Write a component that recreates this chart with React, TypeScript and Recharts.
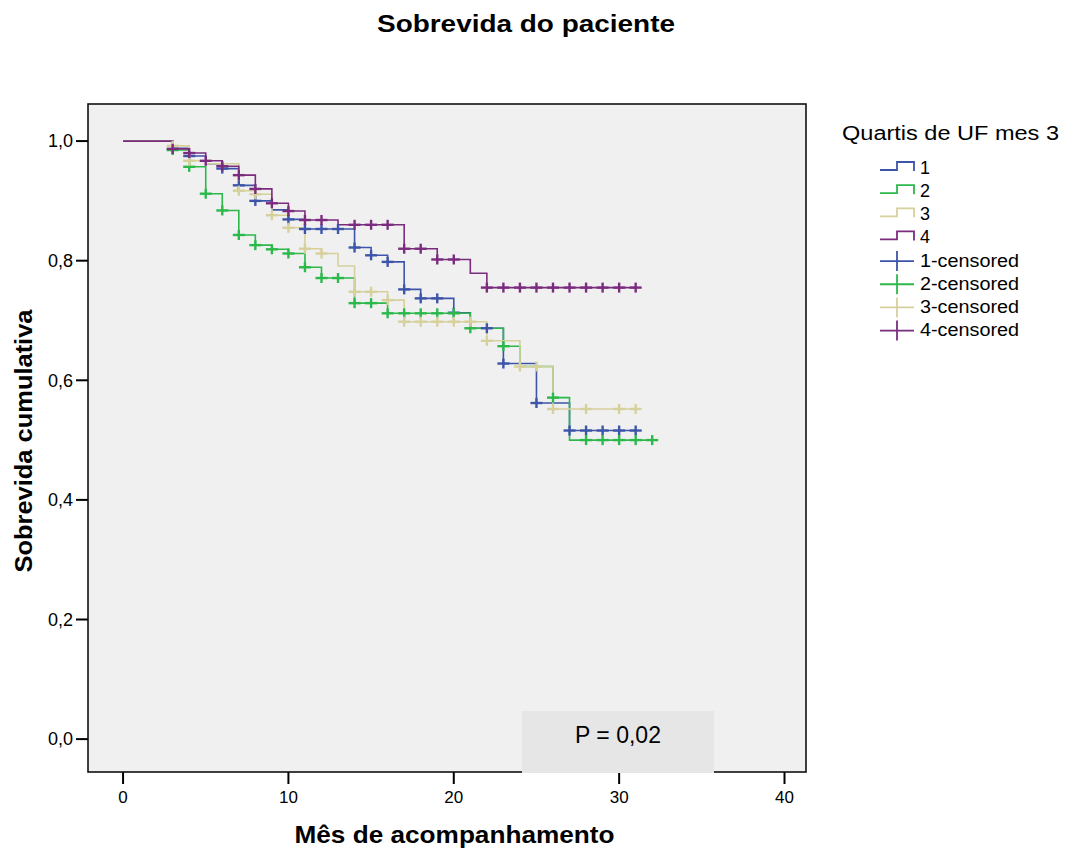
import React from "react";
import { ComposedChart, Line, Scatter, XAxis, YAxis, CartesianGrid } from "recharts";

const FONT = '"Liberation Sans", Arial, Helvetica, sans-serif';

// Step times (months) and cumulative survival after each step
const times1 = [0, 3, 4, 5, 6, 7, 8, 9, 10, 11, 14, 15, 16, 17, 18, 20, 21, 23, 25, 27, 31];
const surv1 = [1, 0.988, 0.975, 0.962, 0.954, 0.926, 0.9, 0.885, 0.869, 0.853, 0.822, 0.809, 0.798, 0.752, 0.737, 0.713, 0.687, 0.628, 0.562, 0.516, 0.516];
const cens1 = [4, 6, 7, 8, 10, 11, 12, 13, 14, 15, 16, 17, 18, 19, 20, 22, 23, 25, 27, 28, 29, 30, 31];

const times2 = [0, 3, 4, 5, 6, 7, 8, 9, 10, 11, 12, 14, 16, 21, 23, 24, 26, 27, 32];
const surv2 = [1, 0.985, 0.957, 0.912, 0.884, 0.843, 0.826, 0.819, 0.812, 0.789, 0.771, 0.729, 0.712, 0.687, 0.657, 0.623, 0.571, 0.5, 0.5];
const cens2 = [3, 4, 5, 6, 7, 8, 9, 10, 11, 12, 13, 14, 15, 16, 17, 18, 19, 20, 21, 23, 26, 28, 29, 30, 31, 32];

const times3 = [0, 3, 4, 5, 7, 8, 9, 10, 11, 12, 13, 14, 16, 17, 22, 24, 26, 31];
const surv3 = [1, 0.992, 0.967, 0.962, 0.917, 0.911, 0.876, 0.855, 0.82, 0.812, 0.791, 0.748, 0.734, 0.698, 0.666, 0.623, 0.552, 0.552];
const cens3 = [3, 4, 7, 8, 9, 10, 11, 12, 14, 15, 16, 17, 18, 19, 20, 21, 22, 24, 25, 26, 28, 30, 31];

const times4 = [0, 3, 4, 5, 6, 7, 8, 9, 10, 11, 13, 17, 19, 21, 22, 31];
const surv4 = [1, 0.987, 0.98, 0.967, 0.958, 0.943, 0.92, 0.896, 0.883, 0.868, 0.86, 0.82, 0.802, 0.779, 0.755, 0.755];
const cens4 = [3, 4, 5, 6, 7, 8, 9, 10, 11, 12, 14, 15, 16, 17, 18, 19, 20, 22, 23, 24, 25, 26, 27, 28, 29, 30, 31];

const groupNames = ["1", "2", "3", "4"];
const censoredNames = ["1-censored", "2-censored", "3-censored", "4-censored"];
const colors = ["#3d55a8", "#2cb84b", "#d6d09c", "#7b2c7f"];
const xTicks = [0, 10, 20, 30, 40];
const yTicks = [0, 0.2, 0.4, 0.6, 0.8, 1.0];

const toSteps = (times: number[], surv: number[]) => times.map((t, i) => ({ t, s: surv[i] }));
const survAt = (times: number[], surv: number[], t: number) => {
  let v = surv[0];
  for (let i = 0; i < times.length; i++) if (times[i] <= t) v = surv[i];
  return v;
};
const toCens = (times: number[], surv: number[], cens: number[]) =>
  cens.map((t) => ({ t, s: survAt(times, surv, t) }));

const series = [
  { steps: toSteps(times1, surv1), cens: toCens(times1, surv1, cens1) },
  { steps: toSteps(times2, surv2), cens: toCens(times2, surv2, cens2) },
  { steps: toSteps(times3, surv3), cens: toCens(times3, surv3, cens3) },
  { steps: toSteps(times4, surv4), cens: toCens(times4, surv4, cens4) },
];

const makeCross = (color: string) => (props: any) => {
  const { cx, cy } = props;
  if (cx == null || cy == null) return <g />;
  return (
    <g>
      <line x1={cx - 6} x2={cx + 6} y1={cy} y2={cy} stroke={color} strokeWidth={2.4} />
      <line x1={cx} x2={cx} y1={cy - 5} y2={cy + 5} stroke={color} strokeWidth={2.4} />
    </g>
  );
};

const fmt = (v: number) => v.toFixed(1).replace(".", ",");

export default function App() {
  return (
    <div style={{ position: "absolute", left: 0, top: 0, width: 1068, height: 850, background: "#fff" }}>
      <ComposedChart
        width={1068}
        height={850}
        margin={{ top: 104, right: 262, bottom: 38, left: 8 }}
      >
        <CartesianGrid horizontal={false} vertical={false} fill="#f0f0f0" stroke="none" />
        <XAxis
          type="number"
          dataKey="t"
          domain={[-2.12, 41.3]}
          ticks={xTicks}
          interval={0}
          allowDataOverflow
          height={40}
          tickSize={12}
          tickMargin={7}
          axisLine={false}
          tickLine={{ stroke: "#000", strokeWidth: 2 }}
          tick={{ fontSize: 17, fill: "#000", fontFamily: FONT }}
        />
        <YAxis
          type="number"
          dataKey="s"
          domain={[-0.055, 1.062]}
          ticks={yTicks}
          interval={0}
          allowDataOverflow
          width={80}
          tickSize={12}
          tickMargin={3}
          axisLine={false}
          tickLine={{ stroke: "#000", strokeWidth: 2 }}
          tick={{ fontSize: 18, fill: "#000", fontFamily: FONT }}
          tickFormatter={fmt}
        />
        {series.map((sr, i) => (
          <Line
            key={"l" + i}
            data={sr.steps}
            dataKey="s"
            type="stepAfter"
            stroke={colors[i]}
            strokeWidth={1.6}
            dot={false}
            activeDot={false}
            isAnimationActive={false}
            name={groupNames[i]}
          />
        ))}
        {series.map((sr, i) => (
          <Scatter
            key={"c" + i}
            data={sr.cens}
            dataKey="s"
            shape={makeCross(colors[i])}
            isAnimationActive={false}
            name={censoredNames[i]}
          />
        ))}
      </ComposedChart>
      <svg
        width={1068}
        height={850}
        style={{ position: "absolute", left: 0, top: 0, pointerEvents: "none" }}
        fontFamily={FONT}
      >
        <rect x={88} y={104} width={718} height={668} fill="none" stroke="#111" strokeWidth={1.6} />
        <rect x={522} y={711} width={192} height={62} fill="#e6e6e6" />
        <text x={618} y={743} fontSize={23} textAnchor="middle" fill="#000">P = 0,02</text>
        <text x={526} y={32} fontSize={24} fontWeight="bold" textAnchor="middle" fill="#000"
          textLength={298} lengthAdjust="spacingAndGlyphs">Sobrevida do paciente</text>
        <text x={454.5} y={843} fontSize={23} fontWeight="bold" textAnchor="middle" fill="#000"
          textLength={320} lengthAdjust="spacingAndGlyphs">Mês de acompanhamento</text>
        <text x={32} y={441} fontSize={24} fontWeight="bold" textAnchor="middle" fill="#000"
          transform="rotate(-90 32 441)" textLength={263} lengthAdjust="spacingAndGlyphs">Sobrevida cumulativa</text>
        <text x={842} y={140} fontSize={20} fill="#000" textLength={217} lengthAdjust="spacingAndGlyphs">Quartis de UF mes 3</text>
        {groupNames.map((n, i) => {
          const b = 174 + 23.15 * i;
          return (
            <g key={"lg" + i}>
              <polyline
                points={`880,${b - 4} 897,${b - 4} 897,${b - 12} 914,${b - 12} 914,${b - 3}`}
                fill="none"
                stroke={colors[i]}
                strokeWidth={1.8}
              />
              <text x={920} y={b} fontSize={18} fill="#000">{n}</text>
            </g>
          );
        })}
        {censoredNames.map((n, i) => {
          const b = 174 + 23.15 * (i + 4);
          return (
            <g key={"lc" + i}>
              <line x1={880} x2={914} y1={b - 5.5} y2={b - 5.5} stroke={colors[i]} strokeWidth={1.8} />
              <line x1={897} x2={897} y1={b - 15.5} y2={b + 4.5} stroke={colors[i]} strokeWidth={1.8} />
              <text x={920} y={b} fontSize={18} fill="#000" textLength={99} lengthAdjust="spacingAndGlyphs">{n}</text>
            </g>
          );
        })}
      </svg>
    </div>
  );
}
